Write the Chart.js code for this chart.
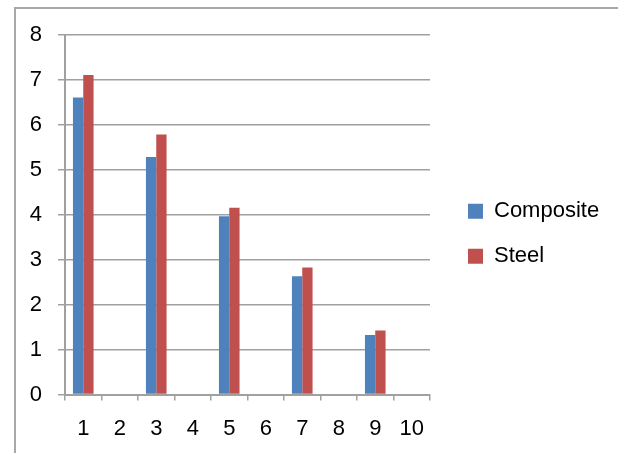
<!DOCTYPE html>
<html>
<head>
<meta charset="utf-8">
<script src="https://cdn.jsdelivr.net/npm/chart.js@4.4.0/dist/chart.umd.min.js"></script>
<style>
  html, body { margin: 0; padding: 0; background: #fff; }
  #wrap { position: relative; width: 618px; height: 453px; }
  #frame {
    position: absolute; left: 14px; top: 7px; right: -2px; bottom: -2px;
    border-left: 2px solid #a8a8a8; border-top: 2px solid #a8a8a8;
    pointer-events: none;
  }
</style>
</head>
<body>
<div id="wrap">
  <canvas id="chartBarras" width="618" height="453"></canvas>
  <div id="frame"></div>
</div>
<script>
const categorias = ["1", "2", "3", "4", "5", "6", "7", "8", "9", "10"];
const composite = [6.6, null, 5.28, null, 3.96, null, 2.63, null, 1.32, null];
const steel = [7.1, null, 5.78, null, 4.15, null, 2.82, null, 1.42, null];
const ticksY = [0, 1, 2, 3, 4, 5, 6, 7, 8];

const fuente = { family: "'Liberation Sans', Arial, sans-serif", size: 22 };
const gris = "#a0a0a0";

// ancho fijo de la leyenda y corrimiento para ubicarla como en el original
const ajusteLeyenda = {
  id: "ajusteLeyenda",
  afterInit(chart) {
    const lg = chart.legend;
    if (!lg) return;
    const fitOrig = lg.fit.bind(lg);
    lg.fit = function () {
      fitOrig();
      this.width = 188;
      this.right = this.left + 188;
    };
  },
  afterLayout(chart) {
    const lg = chart.legend;
    if (!lg) return;
    lg.left += 15; lg.right += 15;
    lg.top -= 10; lg.bottom -= 10;
  },
};

const ctx = document.getElementById("chartBarras").getContext("2d");
new Chart(ctx, {
  type: "bar",
  data: {
    labels: categorias,
    datasets: [
      { label: "Composite", data: composite, backgroundColor: "#4F81BD", borderWidth: 0 },
      { label: "Steel", data: steel, backgroundColor: "#C0504D", borderWidth: 0 },
    ],
  },
  options: {
    responsive: false,
    animation: false,
    categoryPercentage: 0.565,
    barPercentage: 1,
    layout: { padding: { top: 34.5, left: 0, right: 0, bottom: 0 } },
    scales: {
      x: {
        offset: true,
        grid: { display: true, drawOnChartArea: false, offset: true, color: gris, lineWidth: 1.5, tickLength: 6 },
        border: { color: gris, width: 2 },
        ticks: { color: "#000", font: fuente, padding: 15, maxRotation: 0 },
        afterFit(s) { s.height = 58.5; },
      },
      y: {
        min: 0,
        max: 8,
        afterBuildTicks(s) { s.ticks = ticksY.map((v) => ({ value: v })); },
        grid: { color: gris, lineWidth: 1.5, tickLength: 7 },
        border: { color: gris, width: 2 },
        ticks: { color: "#000", font: fuente, padding: 16 },
        afterFit(s) { s.width = 65; },
      },
    },
    plugins: {
      legend: {
        position: "right",
        labels: { color: "#000", font: fuente, boxWidth: 15, boxHeight: 15, padding: 23 },
      },
      tooltip: { enabled: false },
    },
  },
  plugins: [ajusteLeyenda],
});
</script>
</body>
</html>
